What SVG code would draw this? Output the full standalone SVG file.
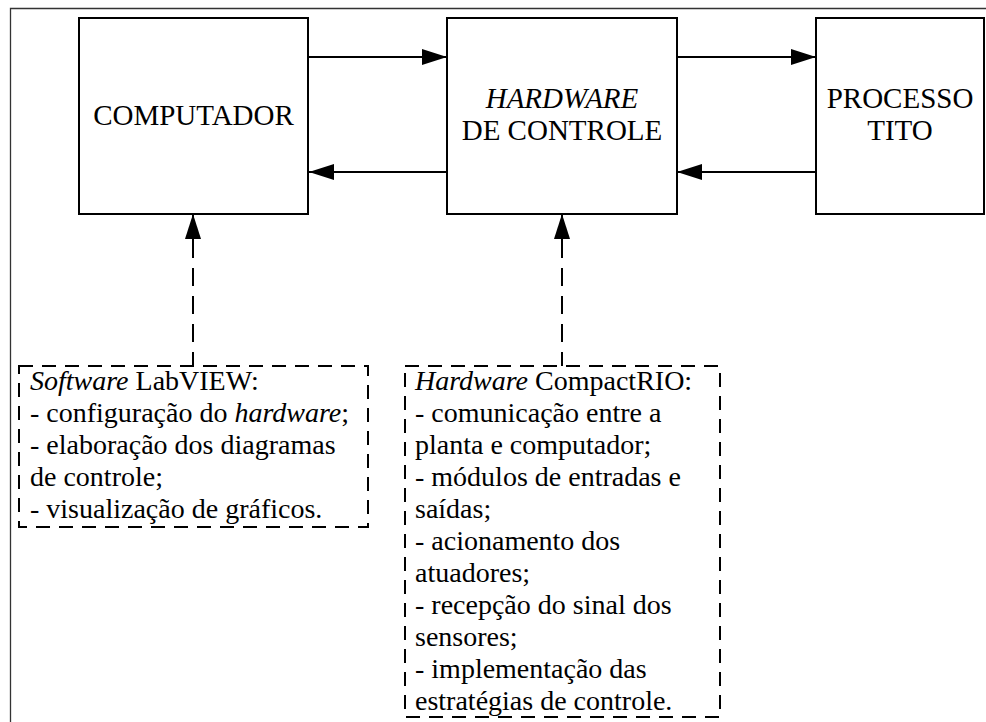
<svg xmlns="http://www.w3.org/2000/svg" width="986" height="722" viewBox="0 0 986 722">
  <style>
    .box { fill: #ffffff; stroke: #000000; stroke-width: 2; }
    .dbox { fill: none; stroke: #000000; stroke-width: 2; stroke-dasharray: 14 9; }
    .line { fill: none; stroke: #000000; stroke-width: 2; }
    .dline { fill: none; stroke: #000000; stroke-width: 2; stroke-dasharray: 18 10; }
    text { font-family: 'Liberation Serif', 'Times New Roman', Times, 'DejaVu Serif', serif; fill: #000000; }
    .title { font-size: 29px; text-anchor: middle; }
    .body { font-size: 28px; }
    .it { font-style: italic; }
  </style>
  <defs>
    <marker id="ah" markerUnits="userSpaceOnUse" markerWidth="26" markerHeight="17" refX="25" refY="8" orient="auto" viewBox="0 0 26 17">
      <path d="M0,0 L25,8 L0,16 Z" fill="#000000"/>
    </marker>
  </defs>
  <rect width="986" height="722" fill="#ffffff"/>
  <g id="frame">
    <path d="M10.5,722 V8.5 H986" fill="none" stroke="#333333" stroke-width="1.3"/>
  </g>
  <g id="node-computador">
    <rect class="box" x="79" y="18" width="229" height="196"/>
    <text class="title" x="193.5" y="125" font-family="Liberation Serif, serif">COMPUTADOR</text>
  </g>
  <g id="node-hardware">
    <rect class="box" x="447" y="18" width="230" height="196"/>
    <text class="title" x="562" y="108" font-family="Liberation Serif, serif"><tspan class="it">HARDWARE</tspan></text>
    <text class="title" x="562" y="140" font-family="Liberation Serif, serif">DE CONTROLE</text>
  </g>
  <g id="node-processo">
    <rect class="box" x="816" y="18" width="168" height="196"/>
    <text class="title" x="900" y="108" font-family="Liberation Serif, serif">PROCESSO</text>
    <text class="title" x="900" y="140" font-family="Liberation Serif, serif">TITO</text>
  </g>
  <g id="node-labview">
    <rect class="dbox" x="19" y="366" width="349" height="161"/>
    <text class="body" x="30" y="390"><tspan class="it">Software</tspan> LabVIEW:</text>
    <text class="body" x="30" y="422">- configuração do <tspan class="it">hardware</tspan>;</text>
    <text class="body" x="30" y="454">- elaboração dos diagramas</text>
    <text class="body" x="30" y="486">de controle;</text>
    <text class="body" x="30" y="518">- visualização de gráficos.</text>
  </g>
  <g id="node-compactrio">
    <rect class="dbox" x="405" y="366" width="315" height="351"/>
    <text class="body" x="415" y="390"><tspan class="it">Hardware</tspan> CompactRIO:</text>
    <text class="body" x="415" y="422">- comunicação entre a</text>
    <text class="body" x="415" y="454">planta e computador;</text>
    <text class="body" x="415" y="486">- módulos de entradas e</text>
    <text class="body" x="415" y="518">saídas;</text>
    <text class="body" x="415" y="550">- acionamento dos</text>
    <text class="body" x="415" y="582">atuadores;</text>
    <text class="body" x="415" y="614">- recepção do sinal dos</text>
    <text class="body" x="415" y="646">sensores;</text>
    <text class="body" x="415" y="678">- implementação das</text>
    <text class="body" x="415" y="710">estratégias de controle.</text>
  </g>
  <g id="connectors">
    <path class="line" d="M308,57 H447" marker-end="url(#ah)"/>
    <path class="line" d="M447,172 H309" marker-end="url(#ah)"/>
    <path class="line" d="M677,57 H816" marker-end="url(#ah)"/>
    <path class="line" d="M816,172 H677" marker-end="url(#ah)"/>
    <path class="dline" d="M193,240 V366"/>
    <path class="line" d="M193,242 V214" marker-end="url(#ah)"/>
    <path class="dline" d="M562,240 V366"/>
    <path class="line" d="M562,242 V214" marker-end="url(#ah)"/>
  </g>
</svg>
